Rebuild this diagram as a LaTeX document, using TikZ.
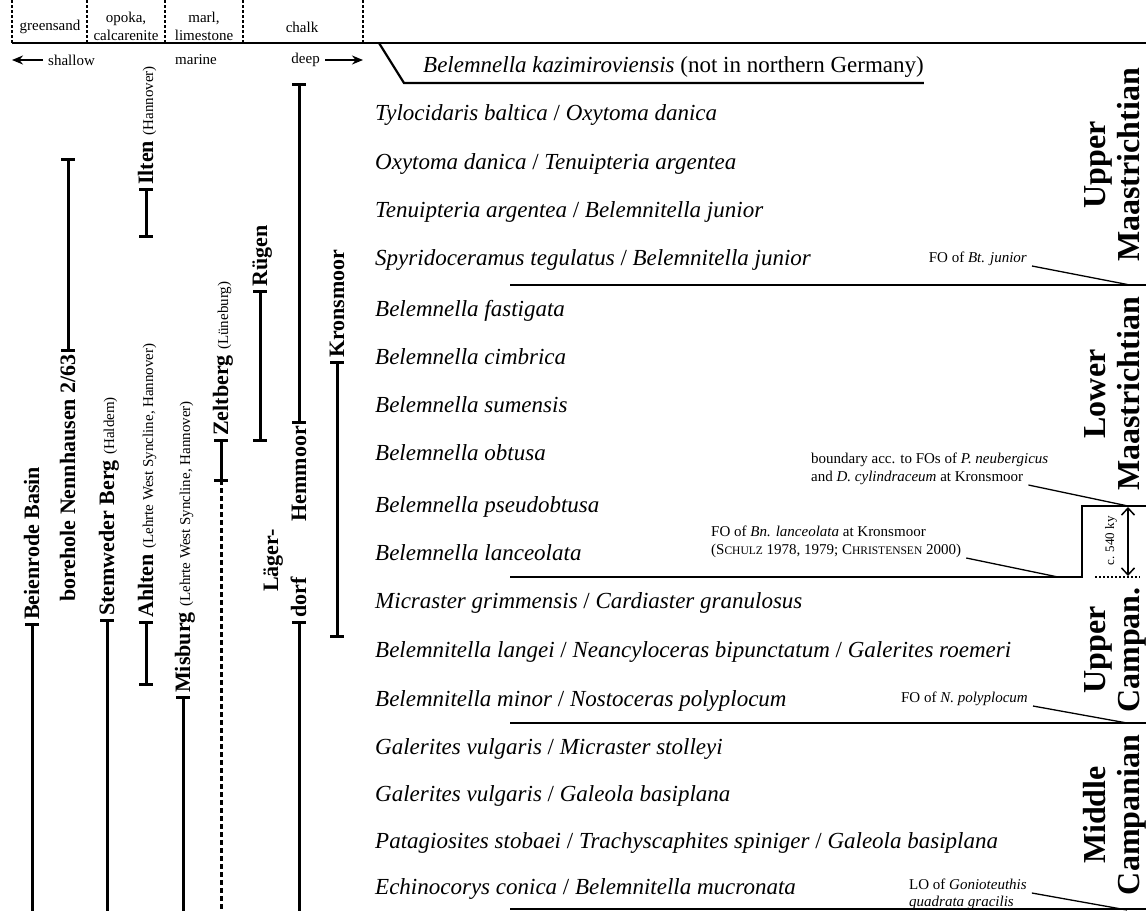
\documentclass[tikz,border=0pt]{standalone}
\usepackage{fontspec}
\setmainfont{Liberation Serif}
\usetikzlibrary{arrows.meta}
\newcommand\fsc[2]{#1{\fontsize{11.5}{12}\selectfont\MakeUppercase{#2}}}
\newcommand\slsh{{\upshape /}}
\newcommand\pfont{\fontsize{15}{16}\selectfont\mdseries}
\begin{document}
\begin{tikzpicture}[x=1pt,y=-1pt,
  rowt/.style={anchor=base west, inner sep=0pt, font=\fontsize{23}{27}\selectfont\itshape},
  hdr/.style={font=\fontsize{15}{18}\selectfont, align=center, inner sep=0pt},
  ann/.style={font=\fontsize{15}{17}\selectfont, inner sep=0pt},
  stage/.style={rotate=90, anchor=base, font=\fontsize{32}{34}\selectfont\bfseries, inner sep=0pt},
  loc/.style={rotate=90, inner sep=0pt, font=\fontsize{22}{23}\selectfont\bfseries},
  rng/.style={line width=3pt},
  dashrng/.style={line width=3pt, dash pattern=on 5pt off 3pt},
  capl/.style={line width=3pt},
  bnd/.style={line width=2.2pt},
  lead/.style={line width=1.3pt},
  sep/.style={line width=2pt, dash pattern=on 2.5pt off 2.5pt},
  harrow/.style={line width=1.8pt, -{Stealth[length=11pt,width=9pt]}},
]
\useasboundingbox[fill=white] (0,0) rectangle (1146,911);

% ---------- header ----------
\foreach \x in {12,87,165,243,363} \draw[sep] (\x,0) -- (\x,43);
\draw[bnd] (12,43) -- (1146,43);
\node[hdr] (gs) at (50,27) {greensand};
\node[hdr] (op) at (126,26) {opoka,\\calcarenite};
\node[hdr] (ml) at (204,26) {marl,\\limestone};
\node[hdr] (ch) at (302,27) {chalk};
\node[hdr, anchor=west] (sh) at (48,60) {shallow};
\node[hdr] (ma) at (196,60) {marine};
\node[hdr, anchor=east] (dp) at (320,60) {deep};
\coordinate (shl) at (12,60);
\coordinate (dpr) at (363,60);
\draw[harrow] ([xshift=-5pt]sh.west) -- (shl);
\draw[harrow] ([xshift=5pt]dp.east) -- (dpr);

% ---------- rows ----------
\node[rowt] (r0) at (423,72) {Belemnella kazimiroviensis {\upshape (not in northern Germany)}};
\coordinate (k0) at (379,43);
\coordinate (k1) at (404,83);
\draw[bnd] (k0) -- (k1) -- (k1 -| r0.east);
\node[rowt] (r1) at (375,120) {Tylocidaris baltica \slsh{} Oxytoma danica};
\node[rowt] (r2) at (375,169) {Oxytoma danica \slsh{} Tenuipteria argentea};
\node[rowt] (r3) at (375,217) {Tenuipteria argentea \slsh{} Belemnitella junior};
\node[rowt] (r4) at (375,265) {Spyridoceramus tegulatus \slsh{} Belemnitella junior};
\node[rowt] (r5) at (375,316) {Belemnella fastigata};
\node[rowt] (r6) at (375,364) {Belemnella cimbrica};
\node[rowt] (r7) at (375,412) {Belemnella sumensis};
\node[rowt] (r8) at (375,460) {Belemnella obtusa};
\node[rowt] (r9) at (375,512) {Belemnella pseudobtusa};
\node[rowt] (r10) at (375,560) {Belemnella lanceolata};
\node[rowt] (r11) at (375,608) {Micraster grimmensis \slsh{} Cardiaster granulosus};
\node[rowt] (r12) at (375,657) {Belemnitella langei \slsh{} Neancyloceras bipunctatum \slsh{} Galerites roemeri};
\node[rowt] (r13) at (375,706) {Belemnitella minor \slsh{} Nostoceras polyplocum};
\node[rowt] (r14) at (375,754) {Galerites vulgaris \slsh{} Micraster stolleyi};
\node[rowt] (r15) at (375,801) {Galerites vulgaris \slsh{} Galeola basiplana};
\node[rowt] (r16) at (375,848) {Patagiosites stobaei \slsh{} Trachyscaphites spiniger \slsh{} Galeola basiplana};
\node[rowt] (r17) at (375,894) {Echinocorys conica \slsh{} Belemnitella mucronata};

% ---------- boundaries ----------
\draw[bnd] (510,285) -- (1146,285);
\node[ann, anchor=base east] (a1) at (1027,262) {FO of \textit{Bt. junior}};
\coordinate (a1e) at (1130,285);
\draw[lead] ([xshift=5pt,yshift=-4pt]a1.base east) -- (a1e);

\coordinate (s1) at (1082,577);
\coordinate (s2) at (1082,506);
\draw[bnd] (510,577) -- (s1) -- (s2) -- (1146,506);
\node[ann, anchor=base west] (b1) at (811,463) {boundary acc. to FOs of \textit{P. neubergicus}};
\node[ann, anchor=base west] (b2) at (811,481) {and \textit{D. cylindraceum} at Kronsmoor};
\coordinate (b2e) at (1128,506);
\draw[lead] ([xshift=5pt,yshift=-4pt]b2.base east) -- (b2e);

\node[ann, anchor=base west] (c1) at (711,536) {FO of \textit{Bn. lanceolata} at Kronsmoor};
\node[ann, anchor=base west] (c2) at (711,554) {(\fsc{S}{chulz} 1978, 1979; \fsc{C}{hristensen} 2000)};
\coordinate (c2e) at (1058,577);
\draw[lead] ([xshift=5pt,yshift=-4pt]c2.base east) -- (c2e);

\coordinate (ka) at (1128,507);
\coordinate (kb) at (1128,576);
\draw[line width=1.5pt, {Straight Barb[length=7pt,width=13pt]}-{Straight Barb[length=7pt,width=13pt]}] (ka) -- (kb);
\draw[line width=1.5pt, dash pattern=on 2pt off 2pt] (1095,577) -- (1140,577);
\node[rotate=90, inner sep=0pt, font=\fontsize{13}{13}\selectfont] (ky) at (1111,541) {c. 540 ky};

\draw[bnd] (510,723) -- (1146,723);
\node[ann, anchor=base east] (d1) at (1028,702) {FO of \textit{N. polyplocum}};
\coordinate (d1e) at (1127,723);
\draw[lead] ([xshift=5pt,yshift=-4pt]d1.base east) -- (d1e);

\draw[bnd] (510,909) -- (1146,909);
\node[ann, anchor=base west] (e1) at (909,889) {LO of \textit{Gonioteuthis}};
\node[ann, anchor=base west] (e2) at (909,906) {\textit{quadrata gracilis}};
\coordinate (e1e) at (1127,910);
\draw[lead] ([xshift=5pt,yshift=-4pt]e1.base east) -- (e1e);

% ---------- stages ----------
\node[stage] (st1a) at (1105,165) {Upper};
\node[stage] (st1b) at (1139,165) {Maastrichtian};
\node[stage] (st2a) at (1105,394) {Lower};
\node[stage] (st2b) at (1139,394) {Maastrichtian};
\node[stage] (st3a) at (1105,650) {Upper};
\node[stage] (st3b) at (1139,650) {Campan.};
\node[stage] (st4a) at (1105,815) {Middle};
\node[stage] (st4b) at (1139,815) {Campanian};

% ---------- localities ----------
\draw[rng] (32,624) -- (32,911);
\draw[capl] (25,624) -- (39,624);
\node[loc, anchor=base west] (lbb) at (39,620) {Beienrode Basin};
\draw[rng] (68,159) -- (68,350);
\draw[capl] (61,159) -- (75,159);
\draw[capl] (61,350) -- (75,350);
\node[loc, anchor=base east] (lnn) at (75,354) {borehole Nennhausen 2/63};
\draw[rng] (107,620) -- (107,911);
\draw[capl] (100,620) -- (114,620);
\node[loc, anchor=base west] (lsb) at (114,616) {Stemweder Berg {\pfont (Haldem)}};
\draw[rng] (146,189) -- (146,236);
\draw[capl] (139,189) -- (153,189);
\draw[capl] (139,236) -- (153,236);
\node[loc, anchor=base west] (lil) at (153,185) {Ilten {\pfont (Hannover)}};
\draw[rng] (146,622) -- (146,684);
\draw[capl] (139,622) -- (153,622);
\draw[capl] (139,684) -- (153,684);
\node[loc, anchor=base west] (lah) at (153,618) {Ahlten {\pfont (Lehrte West Syncline, Hannover)}};
\draw[rng] (183,697) -- (183,911);
\draw[capl] (176,697) -- (190,697);
\node[loc, anchor=base west] (lmi) at (190,693) {Misburg {\pfont (Lehrte West Syncline, Hannover)}};
\draw[rng] (221,440) -- (221,480);
\draw[capl] (214,440) -- (228,440);
\draw[capl] (214,480) -- (228,480);
\draw[dashrng] (221,480) -- (221,911);
\node[loc, anchor=base west] (lze) at (228,436) {Zeltberg {\pfont (Lüneburg)}};
\draw[rng] (260,291) -- (260,440);
\draw[capl] (253,291) -- (267,291);
\draw[capl] (253,440) -- (267,440);
\node[loc, anchor=base west] (lru) at (267,287) {Rügen};
\draw[rng] (299,84) -- (299,422);
\draw[capl] (292,84) -- (306,84);
\draw[capl] (292,422) -- (306,422);
\node[loc, anchor=base east] (lhe) at (306,426) {Hemmoor};
\draw[rng] (299,622) -- (299,911);
\draw[capl] (292,622) -- (306,622);
\node[loc, anchor=base west] (ld2) at (306,618) {dorf};
\node[loc, anchor=base west] (ld1) at (278,592) {Läger-};
\draw[rng] (337,362) -- (337,636);
\draw[capl] (330,362) -- (344,362);
\draw[capl] (330,636) -- (344,636);
\node[loc, anchor=base west] (lkr) at (344,358) {Kronsmoor};
\end{tikzpicture}
\end{document}
